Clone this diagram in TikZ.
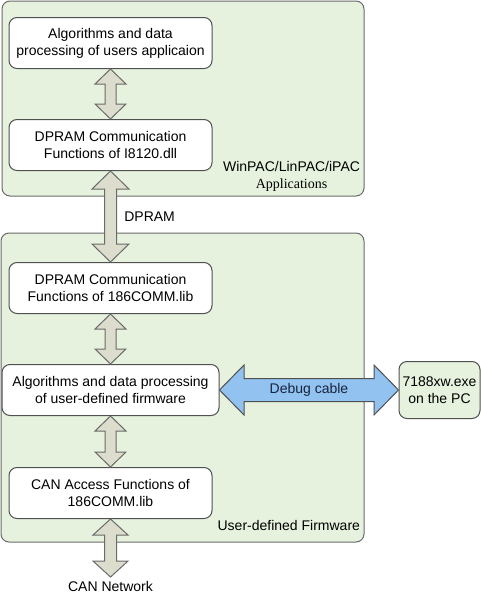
\documentclass[tikz,border=0pt]{standalone}
\usepackage{fontspec}
\setmainfont{Liberation Sans}
\newfontfamily\timesfont{Liberation Serif}
\usepackage{tikz}
\usetikzlibrary{positioning}
\usetikzlibrary{calc}

\definecolor{groupgreen}{RGB}{230,242,222}
\definecolor{arrowgray}{RGB}{220,221,204}
\definecolor{cableblue}{RGB}{145,194,240}
\definecolor{edgegray}{RGB}{80,80,80}
\definecolor{cabletext}{RGB}{25,35,60}

% vertical block arrow: top, bottom, shaft half, head half, head length
\newcommand{\vdouble}[5]{%
	\draw[fat arrow] let \p1=(#1), \p2=(#2) in
	(\x1,\y1) -- (\x1+#4pt,\y1-#5pt) -- (\x1+#3pt,\y1-#5pt) -- (\x1+#3pt,\y2+#5pt)
	-- (\x1+#4pt,\y2+#5pt) -- (\x1,\y2) -- (\x1-#4pt,\y2+#5pt) -- (\x1-#3pt,\y2+#5pt)
	-- (\x1-#3pt,\y1-#5pt) -- (\x1-#4pt,\y1-#5pt) -- cycle;}
% horizontal block arrow: left, right, shaft half, head half, head length
\newcommand{\hdouble}[5]{%
	\draw[cable arrow] let \p1=(#1), \p2=(#2) in
	(\x1,\y1) -- (\x1+#5pt,\y1+#4pt) -- (\x1+#5pt,\y1+#3pt) -- (\x2-#5pt,\y1+#3pt)
	-- (\x2-#5pt,\y1+#4pt) -- (\x2,\y1) -- (\x2-#5pt,\y1-#4pt) -- (\x2-#5pt,\y1-#3pt)
	-- (\x1+#5pt,\y1-#3pt) -- (\x1+#5pt,\y1-#4pt) -- cycle;}

\begin{document}
\begin{tikzpicture}[x=1pt,y=-1pt,font=\fontsize{14}{17}\selectfont,line width=1pt,
	group/.style={draw=edgegray!85,fill=groupgreen,rounded corners=8pt},
	block/.style={draw=edgegray,fill=white,rounded corners=8pt,align=center,
		inner sep=2pt,minimum width=203pt,minimum height=51pt},
	fat arrow/.style={draw=edgegray!85,fill=arrowgray},
	cable arrow/.style={draw=edgegray,fill=cableblue}]
	
	\useasboundingbox (0,0) rectangle (480,595);
	
	\node[group,minimum width=362pt,minimum height=195pt] (win) at (183,98.5) {};
	\node[group,minimum width=363pt,minimum height=309pt] (fw) at (182.5,387.5) {};
	
	\node[block] (algo) at (110.5,43) {Algorithms and data\\processing of users applicaion};
	\node[block] (dll) [below=50pt of algo] {DPRAM Communication\\Functions of I8120.dll};
	\node[block] (comm) [below=91pt of dll] {DPRAM Communication\\Functions of 186COMM.lib};
	\node[block,minimum width=217pt] (firm) [below=50pt of comm] {Algorithms and data processing\\of user-defined firmware};
	\node[block] (can) [below=51pt of firm] {CAN Access Functions of\\186COMM.lib};
	\node[block,fill=groupgreen,minimum width=81pt,minimum height=57pt,inner sep=1pt] (pc) [right=179pt of firm] {7188xw.exe\\on the PC};
	\node (net) at (110.5,586) {CAN Network};
	
	\node[anchor=south east,inner sep=0pt,align=center] (winlbl) at ($(win.south east)+(-4,-5)$) {WinPAC/LinPAC/iPAC\\{\timesfont Applications}};
	\node[anchor=south east,inner sep=0pt] (fwlbl) at ($(fw.south east)+(-4,-11)$) {User-defined Firmware};
	
	\vdouble{algo.south}{dll.north}{5.5}{15.5}{15}
	\vdouble{dll.south}{comm.north}{6}{18.5}{18}
	\vdouble{comm.south}{firm.north}{5.5}{15.5}{15}
	\vdouble{firm.south}{can.north}{5.5}{15.5}{15}
	\vdouble{can.south}{net.north}{6}{17.5}{16}
	\hdouble{firm.east}{pc.west}{11.5}{25}{24.5}
	
	\node[anchor=west] (dpram) at ($(dll.south)!0.5!(comm.north)+(10,0)$) {DPRAM};
	\node[text=cabletext] (cable) at ($(firm.east)!0.5!(pc.west)$) {Debug cable};
\end{tikzpicture}
\end{document}
